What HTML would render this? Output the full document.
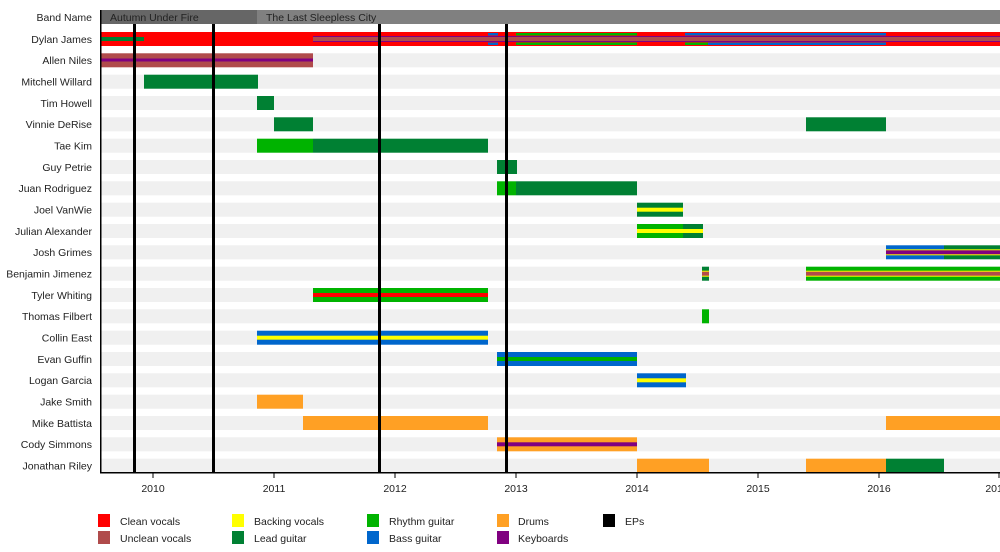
<!DOCTYPE html>
<html><head><meta charset="utf-8"><style>
html,body{margin:0;padding:0;background:#fff;}
svg{display:block;font-family:"Liberation Sans",sans-serif;font-size:10.5px;}
</style></head><body>
<svg width="1000" height="552" viewBox="0 0 1000 552" xmlns="http://www.w3.org/2000/svg">
<rect x="101" y="10" width="156" height="14" fill="#666"/>
<rect x="257" y="10" width="743" height="14" fill="#808080"/>
<text x="110" y="21" fill="#222">Autumn Under Fire</text>
<text x="266" y="21" fill="#222">The Last Sleepless City</text>
<g fill="#f0f0f0">
<rect x="101" y="32" width="899" height="14"/>
<rect x="101" y="53.3" width="899" height="14"/>
<rect x="101" y="74.7" width="899" height="14"/>
<rect x="101" y="96" width="899" height="14"/>
<rect x="101" y="117.3" width="899" height="14"/>
<rect x="101" y="138.7" width="899" height="14"/>
<rect x="101" y="160" width="899" height="14"/>
<rect x="101" y="181.3" width="899" height="14"/>
<rect x="101" y="202.7" width="899" height="14"/>
<rect x="101" y="224" width="899" height="14"/>
<rect x="101" y="245.3" width="899" height="14"/>
<rect x="101" y="266.7" width="899" height="14"/>
<rect x="101" y="288" width="899" height="14"/>
<rect x="101" y="309.3" width="899" height="14"/>
<rect x="101" y="330.7" width="899" height="14"/>
<rect x="101" y="352" width="899" height="14"/>
<rect x="101" y="373.3" width="899" height="14"/>
<rect x="101" y="394.7" width="899" height="14"/>
<rect x="101" y="416" width="899" height="14"/>
<rect x="101" y="437.3" width="899" height="14"/>
<rect x="101" y="458.7" width="899" height="14"/>
</g>
<g fill="#222" text-anchor="end">
<text x="92" y="21">Band Name</text>
<text x="92" y="43">Dylan James</text>
<text x="92" y="64">Allen Niles</text>
<text x="92" y="85.5">Mitchell Willard</text>
<text x="92" y="107">Tim Howell</text>
<text x="92" y="128">Vinnie DeRise</text>
<text x="92" y="149.5">Tae Kim</text>
<text x="92" y="171">Guy Petrie</text>
<text x="92" y="192">Juan Rodriguez</text>
<text x="92" y="213.5">Joel VanWie</text>
<text x="92" y="235">Julian Alexander</text>
<text x="92" y="256">Josh Grimes</text>
<text x="92" y="277.5">Benjamin Jimenez</text>
<text x="92" y="299">Tyler Whiting</text>
<text x="92" y="320">Thomas Filbert</text>
<text x="92" y="341.5">Collin East</text>
<text x="92" y="363">Evan Guffin</text>
<text x="92" y="384">Logan Garcia</text>
<text x="92" y="405.5">Jake Smith</text>
<text x="92" y="427">Mike Battista</text>
<text x="92" y="448">Cody Simmons</text>
<text x="92" y="469.5">Jonathan Riley</text>
</g>
<rect x="101" y="32" width="899" height="14" fill="#ff0000"/>
<rect x="101" y="37" width="43" height="4" fill="#008033"/>
<rect x="488" y="33" width="10" height="2.5" fill="#0066cc"/><rect x="488" y="42.5" width="10" height="2.5" fill="#0066cc"/>
<rect x="516" y="33" width="121" height="2.5" fill="#00b300"/><rect x="516" y="42.5" width="121" height="2.5" fill="#00b300"/>
<rect x="685" y="33" width="201" height="2.5" fill="#0066cc"/><rect x="685" y="42.5" width="201" height="2.5" fill="#0066cc"/>
<rect x="685" y="42.5" width="23" height="2.5" fill="#00b300"/>
<rect x="313" y="36" width="687" height="6" fill="#800080"/>
<rect x="313" y="37" width="687" height="4" fill="#b04b4b"/>
<rect x="101" y="53.3" width="212" height="14" fill="#b04b4b"/>
<rect x="101" y="58.5" width="212" height="3" fill="#800080"/>
<rect x="144" y="74.7" width="114" height="14" fill="#008033"/>
<rect x="257" y="96" width="17" height="14" fill="#008033"/>
<rect x="274" y="117.3" width="39" height="14" fill="#008033"/>
<rect x="806" y="117.3" width="80" height="14" fill="#008033"/>
<rect x="257" y="138.7" width="56" height="14" fill="#00b300"/>
<rect x="313" y="138.7" width="175" height="14" fill="#008033"/>
<rect x="497" y="160" width="20" height="14" fill="#008033"/>
<rect x="497" y="181.3" width="19" height="14" fill="#00b300"/>
<rect x="516" y="181.3" width="121" height="14" fill="#008033"/>
<rect x="637" y="202.7" width="46" height="14" fill="#008033"/>
<rect x="637" y="207.7" width="46" height="4" fill="#ffff00"/>
<rect x="637" y="224" width="46" height="14" fill="#00b300"/>
<rect x="683" y="224" width="20" height="14" fill="#008033"/>
<rect x="637" y="229" width="66" height="4" fill="#ffff00"/>
<rect x="886" y="245.3" width="58" height="14" fill="#0066cc"/>
<rect x="944" y="245.3" width="56" height="14" fill="#008033"/>
<rect x="886" y="249.3" width="114" height="6" fill="#ffff00"/>
<rect x="886" y="250.3" width="114" height="4" fill="#800080"/>
<rect x="702" y="266.7" width="7" height="14" fill="#008033"/>
<rect x="806" y="266.7" width="194" height="14" fill="#00b300"/>
<rect x="702" y="270.7" width="7" height="6" fill="#ffff00"/>
<rect x="806" y="270.7" width="194" height="6" fill="#ffff00"/>
<rect x="702" y="271.7" width="7" height="4" fill="#b04b4b"/>
<rect x="806" y="271.7" width="194" height="4" fill="#b04b4b"/>
<rect x="313" y="288" width="175" height="14" fill="#00b300"/>
<rect x="313" y="293" width="175" height="4" fill="#ff0000"/>
<rect x="702" y="309.3" width="7" height="14" fill="#00b300"/>
<rect x="257" y="330.7" width="231" height="14" fill="#0066cc"/>
<rect x="257" y="335.7" width="231" height="4" fill="#ffff00"/>
<rect x="497" y="352" width="140" height="14" fill="#0066cc"/>
<rect x="497" y="357" width="140" height="4" fill="#00b300"/>
<rect x="637" y="373.3" width="49" height="14" fill="#0066cc"/>
<rect x="637" y="378.3" width="49" height="4" fill="#ffff00"/>
<rect x="257" y="394.7" width="46" height="14" fill="#ffa024"/>
<rect x="303" y="416" width="185" height="14" fill="#ffa024"/>
<rect x="886" y="416" width="114" height="14" fill="#ffa024"/>
<rect x="497" y="437.3" width="140" height="14" fill="#ffa024"/>
<rect x="497" y="442.3" width="140" height="4" fill="#800080"/>
<rect x="637" y="458.7" width="72" height="14" fill="#ffa024"/>
<rect x="806" y="458.7" width="80" height="14" fill="#ffa024"/>
<rect x="886" y="458.7" width="58" height="14" fill="#008033"/>
<g fill="#000">
<rect x="133" y="24" width="3" height="448"/>
<rect x="212" y="24" width="3" height="448"/>
<rect x="378" y="24" width="3" height="448"/>
<rect x="505" y="24" width="3" height="448"/>
</g>
<rect x="100" y="10" width="1.5" height="463.5" fill="#000"/>
<rect x="100" y="472" width="900" height="1.5" fill="#000"/>
<g fill="#000">
<rect x="152.5" y="473" width="1" height="5"/>
<rect x="273.5" y="473" width="1" height="5"/>
<rect x="394.5" y="473" width="1" height="5"/>
<rect x="515.5" y="473" width="1" height="5"/>
<rect x="636.5" y="473" width="1" height="5"/>
<rect x="757.5" y="473" width="1" height="5"/>
<rect x="878.5" y="473" width="1" height="5"/>
<rect x="998.5" y="473" width="1" height="5"/>
</g>
<g fill="#222" text-anchor="middle">
<text x="153" y="492">2010</text>
<text x="274" y="492">2011</text>
<text x="395" y="492">2012</text>
<text x="516" y="492">2013</text>
<text x="637" y="492">2014</text>
<text x="758" y="492">2015</text>
<text x="879" y="492">2016</text>
<text x="997" y="492">2017</text>
</g>
<rect x="98" y="514" width="12" height="13" fill="#ff0000"/>
<rect x="98" y="531" width="12" height="13" fill="#b04b4b"/>
<rect x="232" y="514" width="12" height="13" fill="#ffff00"/>
<rect x="232" y="531" width="12" height="13" fill="#008033"/>
<rect x="367" y="514" width="12" height="13" fill="#00b300"/>
<rect x="367" y="531" width="12" height="13" fill="#0066cc"/>
<rect x="497" y="514" width="12" height="13" fill="#ffa024"/>
<rect x="497" y="531" width="12" height="13" fill="#800080"/>
<rect x="603" y="514" width="12" height="13" fill="#000"/>
<g fill="#222">
<text x="120" y="525">Clean vocals</text>
<text x="120" y="542">Unclean vocals</text>
<text x="254" y="525">Backing vocals</text>
<text x="254" y="542">Lead guitar</text>
<text x="389" y="525">Rhythm guitar</text>
<text x="389" y="542">Bass guitar</text>
<text x="518" y="525">Drums</text>
<text x="518" y="542">Keyboards</text>
<text x="625" y="525">EPs</text>
</g>
</svg>
</body></html>
